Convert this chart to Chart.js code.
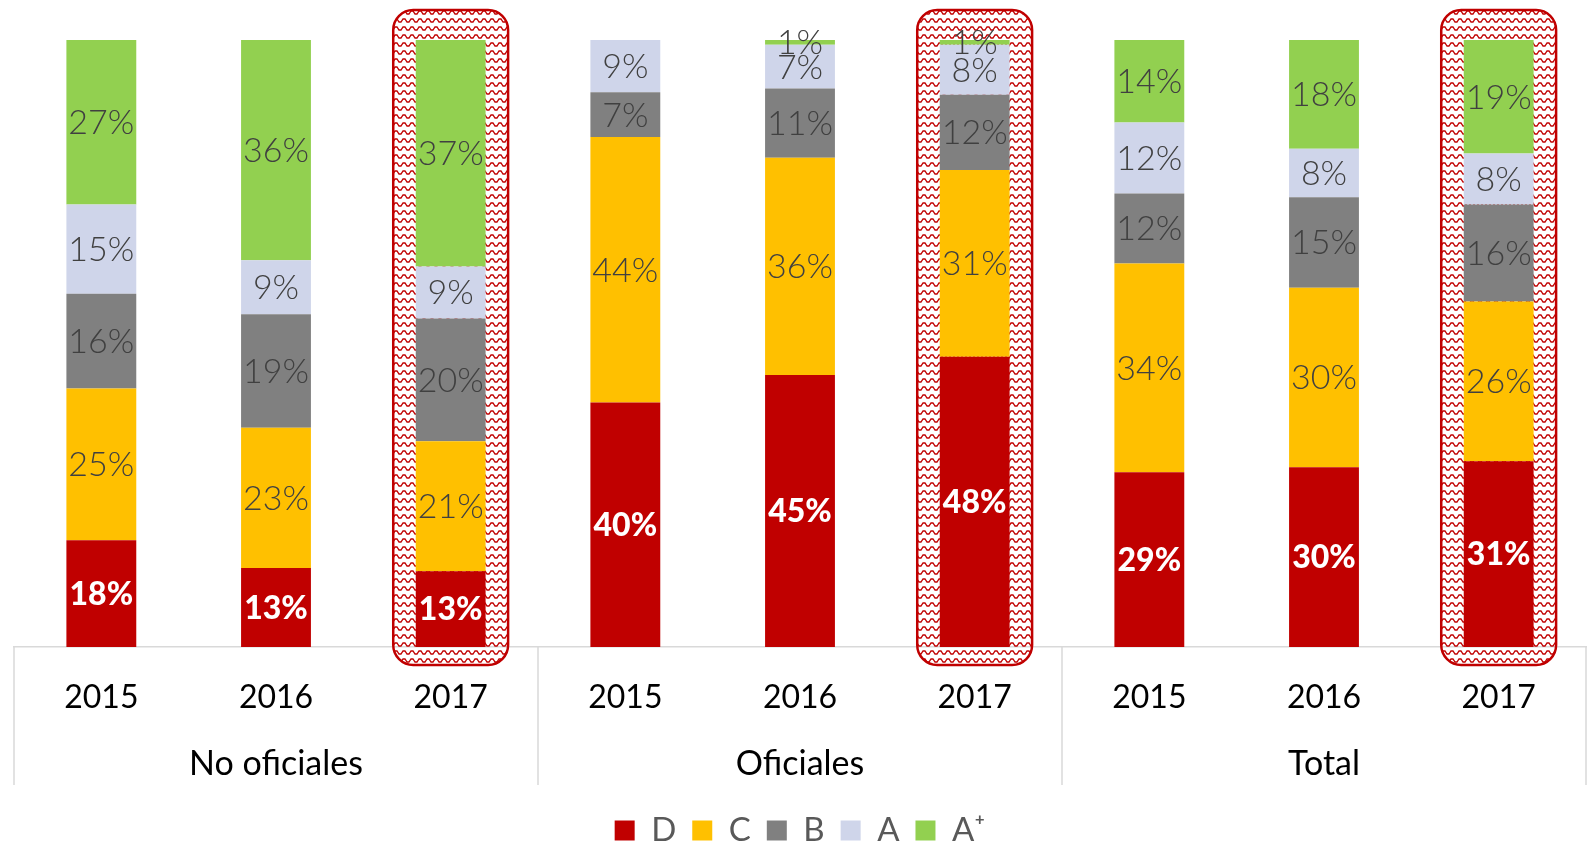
<!DOCTYPE html>
<html>
<head>
<meta charset="utf-8">
<script src="https://cdn.jsdelivr.net/npm/chart.js@4.4.1/dist/chart.umd.min.js"></script>
<style>
html,body{margin:0;padding:0;background:#fff;}
#wrap{width:1588px;height:851px;position:relative;}
</style>
</head>
<body>
<div id="wrap"><canvas id="c"></canvas></div>
<script>
const groups = ['No oficiales', 'Oficiales', 'Total'];
const years = ['2015', '2016', '2017'];
const highlightYear = '2017';
const seriesNames = ['D', 'C', 'B', 'A', 'A⁺'];
const seriesColors = ['#C00000', '#FFC000', '#808080', '#CFD5EA', '#92D050'];

// values per category: NoOf 2015,2016,2017, Of 2015,2016,2017, Total 2015,2016,2017
const dValues  = [17.6, 13.0, 12.5, 40.3, 44.8, 47.8, 28.8, 29.6, 30.6];
const cValues  = [25.0, 23.1, 21.4, 43.7, 35.8, 30.8, 34.4, 29.6, 26.3];
const bValues  = [15.6, 18.7, 20.2, 7.4, 11.4, 12.4, 11.5, 14.9, 16.0];
const aValues  = [14.7, 8.9, 8.6, 8.6, 7.2, 8.2, 11.7, 8.0, 8.4];
const apValues = [27.1, 36.3, 37.3, 0, 0.8, 0.8, 13.6, 17.9, 18.7];

const categories = [];
const categoryGroup = [];
groups.forEach((g, gi) => years.forEach(y => { categories.push(y); categoryGroup.push(gi); }));

const allValues = [dValues, cValues, bValues, aValues, apValues];

const PAD_BOTTOM = -6;

// zigzag pattern for highlight boxes
function makePattern(ctx) {
  const pc = document.createElement('canvas');
  pc.width = 8; pc.height = 8;
  const p = pc.getContext('2d');
  p.strokeStyle = '#C00000';
  p.lineWidth = 1.3;
  p.beginPath();
  p.moveTo(0, 6); p.lineTo(1, 6); p.lineTo(3, 3); p.lineTo(5, 3); p.lineTo(7, 6); p.lineTo(8, 6);
  p.stroke();
  return ctx.createPattern(pc, 'repeat');
}

function roundRect(ctx, x, y, w, h, r) {
  ctx.beginPath();
  ctx.moveTo(x + r, y);
  ctx.lineTo(x + w - r, y);
  ctx.arcTo(x + w, y, x + w, y + r, r);
  ctx.lineTo(x + w, y + h - r);
  ctx.arcTo(x + w, y + h, x + w - r, y + h, r);
  ctx.lineTo(x + r, y + h);
  ctx.arcTo(x, y + h, x, y + h - r, r);
  ctx.lineTo(x, y + r);
  ctx.arcTo(x, y, x + r, y, r);
  ctx.closePath();
}

const highlightPlugin = {
  id: 'highlight',
  beforeDatasetsDraw(chart) {
    const ctx = chart.ctx;
    const xs = chart.scales.x, ys = chart.scales.y;
    const meta = chart.getDatasetMeta(0);
    const pat = makePattern(ctx);
    categories.forEach((c, i) => {
      if (c !== highlightYear) return;
      const cx = xs.getPixelForValue(i);
      const bw = meta.data[i].width;
      const half = bw / 2 + 22.5;
      const top = ys.getPixelForValue(100) - 30;
      const bottom = chart.chartArea.bottom + 18;
      ctx.save();
      roundRect(ctx, cx - half, top, half * 2, bottom - top, 20);
      ctx.fillStyle = pat;
      ctx.fill();
      ctx.lineWidth = 2.5;
      ctx.strokeStyle = '#C00000';
      ctx.stroke();
      ctx.restore();
    });
  }
};

const labelsPlugin = {
  id: 'barLabels',
  afterDatasetsDraw(chart) {
    const ctx = chart.ctx;
    ctx.save();
    ctx.textAlign = 'center';
    ctx.textBaseline = 'middle';
    chart.data.datasets.forEach((ds, di) => {
      const meta = chart.getDatasetMeta(di);
      meta.data.forEach((el, i) => {
        const v = ds.data[i];
        if (!v) return;
        const y = (el.y + el.base) / 2;
        if (di === 0) {
          ctx.font = '900 32px Lato';
          ctx.fillStyle = '#FFFFFF';
        } else {
          ctx.font = '300 34px Lato';
          ctx.fillStyle = '#404040';
        }
        ctx.fillText(Math.round(v) + '%', el.x, y + 1);
      });
    });
    ctx.restore();
  }
};

const groupAxisPlugin = {
  id: 'groupAxis',
  afterDraw(chart) {
    const ctx = chart.ctx;
    const xs = chart.scales.x;
    const area = chart.chartArea;
    const lineBottom = area.bottom + 138;
    ctx.save();
    ctx.strokeStyle = '#D9D9D9';
    ctx.lineWidth = 1.5;
    const bounds = [area.left];
    for (let i = 1; i < categories.length; i++) {
      if (categoryGroup[i] !== categoryGroup[i - 1]) {
        bounds.push((xs.getPixelForValue(i) + xs.getPixelForValue(i - 1)) / 2);
      }
    }
    bounds.push(area.right);
    bounds.forEach(bx => {
      ctx.beginPath();
      ctx.moveTo(bx, area.bottom);
      ctx.lineTo(bx, lineBottom);
      ctx.stroke();
    });
    ctx.font = '34px Lato';
    ctx.fillStyle = '#000000';
    ctx.textAlign = 'center';
    ctx.textBaseline = 'middle';
    groups.forEach((g, gi) => {
      const idx = categoryGroup.map((v, i) => v === gi ? i : -1).filter(i => i >= 0);
      const cx = (xs.getPixelForValue(idx[0]) + xs.getPixelForValue(idx[idx.length - 1])) / 2;
      ctx.fillText(g, cx, area.bottom + 117);
    });
    ctx.restore();
  }
};

const datasets = seriesNames.map((n, i) => ({
  label: n,
  data: allValues[i],
  backgroundColor: seriesColors[i],
  borderWidth: 0,
  barPercentage: 0.4,
  categoryPercentage: 1.0
}));

new Chart(document.getElementById('c'), {
  type: 'bar',
  data: { labels: categories, datasets },
  plugins: [highlightPlugin, labelsPlugin, groupAxisPlugin],
  options: {
    responsive: true,
    maintainAspectRatio: false,
    animation: false,
    layout: { padding: { top: 40, left: 14, right: 2, bottom: PAD_BOTTOM } },
    plugins: {
      tooltip: { enabled: false },
      legend: {
        position: 'bottom',
        labels: {
          boxWidth: 20,
          boxHeight: 20,
          padding: 16,
          color: '#595959',
          font: { family: 'Lato', size: 33 }
        }
      }
    },
    scales: {
      x: {
        stacked: true,
        grid: { display: false, drawTicks: false },
        border: { display: true, color: '#D9D9D9', width: 1.5 },
        ticks: {
          color: '#000000',
          font: { family: 'Lato', size: 32 },
          padding: 31,
          maxRotation: 0,
          autoSkip: false
        },
        afterFit(scale) {
          const lg = scale.chart.legend;
          const lh = lg ? lg.height : 0;
          scale.height = scale.chart.height - PAD_BOTTOM - 647 - lh;
        }
      },
      y: {
        stacked: true,
        display: false,
        min: 0,
        max: 100
      }
    }
  }
});
</script>
</body>
</html>
